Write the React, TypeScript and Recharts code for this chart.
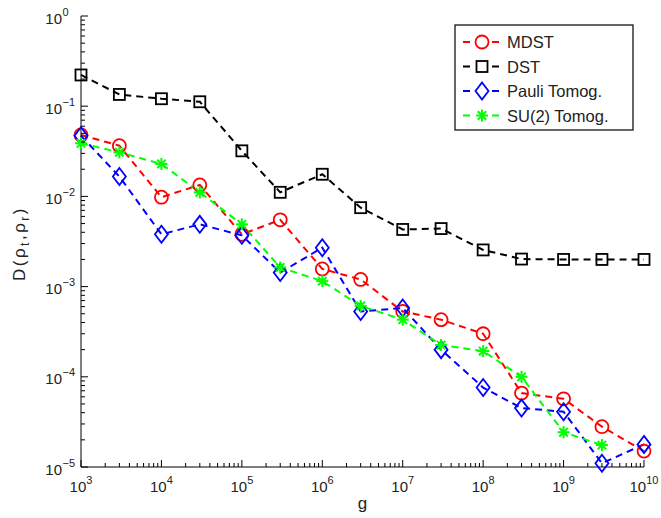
import React from 'react';
import { LineChart, Line, XAxis, YAxis } from 'recharts';

// sample sizes g (x axis)
const gValues = [1e3, 3e3, 1e4, 3e4, 1e5, 3e5, 1e6, 3e6, 1e7, 3e7, 1e8, 3e8, 1e9, 3e9, 1e10];

// distance D(rho_t, rho_r) per method
const mdstValues = [0.048, 0.0365, 0.0098, 0.0134, 0.0038, 0.0055, 0.00157, 0.0012, 0.00053, 0.00043, 0.0003, 6.6e-5, 5.7e-5, 2.8e-5, 1.5e-5];
const dstValues = [0.222, 0.135, 0.121, 0.112, 0.032, 0.0111, 0.0176, 0.0075, 0.0043, 0.0044, 0.00255, 0.00202, 0.002, 0.002, 0.002];
const pauliValues = [0.047, 0.0166, 0.0038, 0.0049, 0.0037, 0.00143, 0.0027, 0.00053, 0.00058, 0.0002, 7.6e-5, 4.5e-5, 4.1e-5, 1.1e-5, 1.78e-5];
const su2Values = [0.0388, 0.0308, 0.0229, 0.0111, 0.0049, 0.00163, 0.00115, 0.00061, 0.00043, 0.000225, 0.000193, 0.0001, 2.43e-5, 1.75e-5, null];

// log axis ticks (decades and 2..9 minors)
const xDecades = [3, 4, 5, 6, 7, 8, 9, 10];
const yDecades = [-5, -4, -3, -2, -1, 0];

const buildTicks = (decades: number[]) => {
  const out: number[] = [];
  decades.forEach((d, i) => {
    for (let m = 1; m <= 9; m++) {
      if (m > 1 && i === decades.length - 1) break;
      out.push(m * Math.pow(10, d));
    }
  });
  return out;
};
const xTicks = buildTicks(xDecades);
const yTicks = buildTicks(yDecades);

const series = [
  { key: 'mdst', name: 'MDST', color: '#ff0000', marker: 'circle', values: mdstValues },
  { key: 'dst', name: 'DST', color: '#000000', marker: 'square', values: dstValues },
  { key: 'pauli', name: 'Pauli Tomog.', color: '#0000ff', marker: 'diamond', values: pauliValues },
  { key: 'su2', name: 'SU(2) Tomog.', color: '#00ff00', marker: 'star', values: su2Values },
];

const data = gValues.map((g, i) => {
  const row: any = { g };
  series.forEach((s) => {
    row[s.key] = s.values[i];
  });
  return row;
});

const FONT = '"Liberation Sans", Arial, Helvetica, sans-serif';
const TEXT = '#222';

const isMajor = (v: number) => Math.abs(Math.log10(v) - Math.round(Math.log10(v))) < 1e-9;
const expText = (v: number) => {
  const e = Math.round(Math.log10(v));
  return e < 0 ? '\u2212' + Math.abs(e) : String(e);
};

function Marker({ kind, cx, cy, color }: { kind: string; cx: number; cy: number; color: string }) {
  const sw = 1.8;
  if (kind === 'circle') {
    return <circle cx={cx} cy={cy} r={6.5} fill="none" stroke={color} strokeWidth={sw} />;
  }
  if (kind === 'square') {
    return <rect x={cx - 5.5} y={cy - 5.5} width={11} height={11} fill="none" stroke={color} strokeWidth={sw} />;
  }
  if (kind === 'diamond') {
    return (
      <path
        d={`M${cx},${cy - 8.5}L${cx + 6.5},${cy}L${cx},${cy + 8.5}L${cx - 6.5},${cy}Z`}
        fill="none"
        stroke={color}
        strokeWidth={sw}
      />
    );
  }
  const r = 6;
  const d = r * 0.7;
  return (
    <g stroke={color} strokeWidth={2}>
      <line x1={cx - r} y1={cy} x2={cx + r} y2={cy} />
      <line x1={cx} y1={cy - r} x2={cx} y2={cy + r} />
      <line x1={cx - d} y1={cy - d} x2={cx + d} y2={cy + d} />
      <line x1={cx - d} y1={cy + d} x2={cx + d} y2={cy - d} />
    </g>
  );
}

const BottomTick = (props: any) => {
  const { x, y, payload } = props;
  const v = payload.value;
  const major = isMajor(v);
  return (
    <g>
      <line x1={x} x2={x} y1={y} y2={y - (major ? 7 : 4)} stroke="#000" />
      {major && (
        <text x={x} y={y + 25} textAnchor="middle" fontSize={15} fill={TEXT} fontFamily={FONT}>
          <tspan>10</tspan>
          <tspan dy={-8} fontSize={11}>{expText(v)}</tspan>
        </text>
      )}
    </g>
  );
};

const TopTick = (props: any) => {
  const { x, y, payload } = props;
  const major = isMajor(payload.value);
  return <line x1={x} x2={x} y1={y} y2={y + (major ? 7 : 4)} stroke="#000" />;
};

const LeftTick = (props: any) => {
  const { x, y, payload } = props;
  const v = payload.value;
  const major = isMajor(v);
  return (
    <g>
      <line x1={x} x2={x + (major ? 7 : 4)} y1={y} y2={y} stroke="#000" />
      {major && (
        <g fontFamily={FONT} fill={TEXT}>
          <text x={x - 19} y={y + 7.5} textAnchor="end" fontSize={15}>10</text>
          <text x={x - 18.5} y={y - 0.5} textAnchor="start" fontSize={11}>{expText(v)}</text>
        </g>
      )}
    </g>
  );
};

const RightTick = (props: any) => {
  const { x, y, payload } = props;
  const major = isMajor(payload.value);
  return <line x1={x} x2={x - (major ? 7 : 4)} y1={y} y2={y} stroke="#000" />;
};

const renderXLabel = (props: any) => {
  const vb = props.viewBox;
  return (
    <text x={vb.x + vb.width / 2} y={vb.y + 42} textAnchor="middle" fontSize={17} fill={TEXT} fontFamily={FONT}>
      g
    </text>
  );
};

const renderYLabel = (props: any) => {
  const vb = props.viewBox;
  const cx = vb.x + 25;
  const cy = vb.y + vb.height / 2 + 2;
  return (
    <text
      x={cx}
      y={cy}
      transform={`rotate(-90 ${cx} ${cy})`}
      textAnchor="middle"
      fontSize={17}
      letterSpacing={2.5}
      fill={TEXT}
      fontFamily={FONT}
    >
      <tspan>D(ρ</tspan>
      <tspan dy={4} fontSize={12}>t</tspan>
      <tspan dy={-4}>,ρ</tspan>
      <tspan dy={4} fontSize={12}>r</tspan>
      <tspan dy={-4}>)</tspan>
    </text>
  );
};

function LegendBox() {
  return (
    <svg
      width={180}
      height={107}
      style={{ position: 'absolute', left: 454, top: 24 }}
    >
      <rect x={1} y={1} width={178} height={105} fill="#fff" stroke="#000" strokeWidth={1.2} />
      {series.map((s, i) => {
        const cy = 18 + i * 24.5;
        return (
          <g key={s.key}>
            <line x1={9} x2={45} y1={cy} y2={cy} stroke={s.color} strokeWidth={2} strokeDasharray="7 22" />
            <Marker kind={s.marker} cx={28} cy={cy} color={s.color} />
            <text x={53} y={cy + 6} fontSize={16.5} fill={TEXT} fontFamily={FONT}>
              {s.name}
            </text>
          </g>
        );
      })}
    </svg>
  );
}

export default function App() {
  return (
    <div style={{ position: 'absolute', left: 0, top: 0, width: 661, height: 518, background: '#fff' }}>
      <LineChart width={661} height={518} data={data} margin={{ top: 16, right: 17, bottom: 0, left: 0 }}>
        <XAxis
          xAxisId="bottom"
          dataKey="g"
          type="number"
          scale="log"
          domain={[1e3, 1e10]}
          ticks={xTicks}
          interval={0}
          tickSize={0}
          tickMargin={0}
          tickLine={false}
          tick={<BottomTick />}
          axisLine={{ stroke: '#000' }}
          height={51}
          label={renderXLabel}
        />
        <XAxis
          xAxisId="top"
          orientation="top"
          dataKey="g"
          type="number"
          scale="log"
          domain={[1e3, 1e10]}
          ticks={xTicks}
          interval={0}
          tickSize={0}
          tickMargin={0}
          tickLine={false}
          tick={<TopTick />}
          axisLine={{ stroke: '#000' }}
          height={0}
        />
        <YAxis
          yAxisId="left"
          type="number"
          scale="log"
          domain={[1e-5, 1]}
          ticks={yTicks}
          interval={0}
          tickSize={0}
          tickMargin={0}
          tickLine={false}
          tick={<LeftTick />}
          axisLine={{ stroke: '#000' }}
          width={81}
          label={renderYLabel}
        />
        <YAxis
          yAxisId="right"
          orientation="right"
          type="number"
          scale="log"
          domain={[1e-5, 1]}
          ticks={yTicks}
          interval={0}
          tickSize={0}
          tickMargin={0}
          tickLine={false}
          tick={<RightTick />}
          axisLine={{ stroke: '#000' }}
          width={0}
        />
        {series.map((s) => (
          <Line
            key={s.key}
            xAxisId="bottom"
            yAxisId="left"
            dataKey={s.key}
            name={s.name}
            type="linear"
            stroke={s.color}
            strokeWidth={2}
            strokeDasharray="7 5"
            isAnimationActive={false}
            activeDot={false}
            dot={(p: any) => {
              if (p.cy == null || p.value == null) return <g key={`${s.key}-${p.index}`} />;
              return (
                <g key={`${s.key}-${p.index}`}>
                  <Marker kind={s.marker} cx={p.cx} cy={p.cy} color={s.color} />
                </g>
              );
            }}
          />
        ))}
      </LineChart>
      <LegendBox />
    </div>
  );
}
